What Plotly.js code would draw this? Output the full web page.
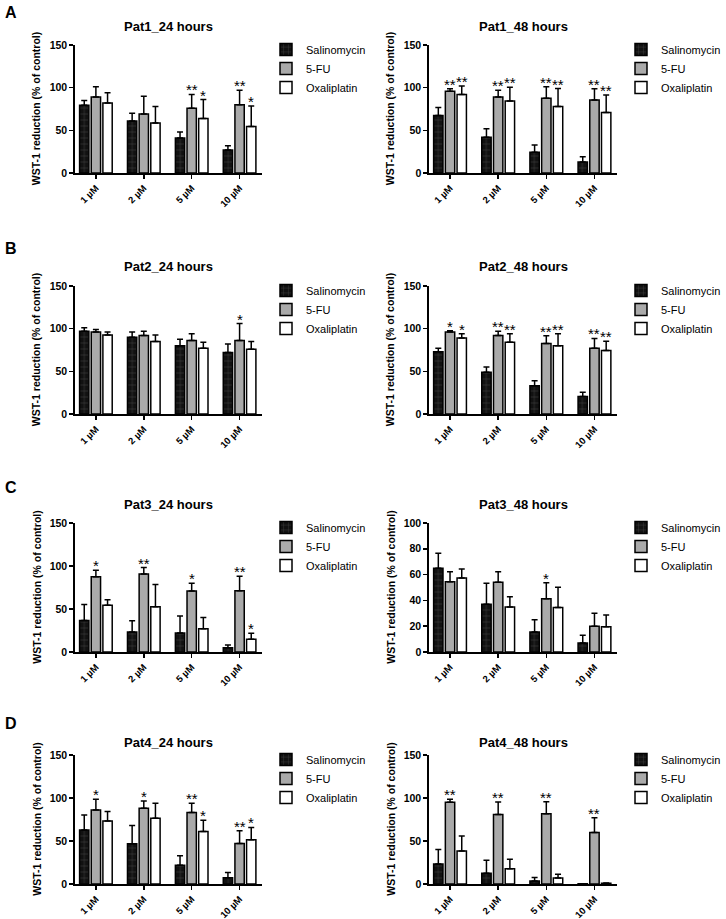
<!DOCTYPE html>
<html>
<head>
<meta charset="utf-8">
<script src="https://cdn.plot.ly/plotly-3.0.1.min.js"></script>
<style>
html,body{margin:0;padding:0;background:#fff;}
#chart{width:726px;height:919px;}
</style>
</head>
<body>
<div id="chart"></div>
<script>
// ---------------- DATA ----------------
const categories = ['1 µM', '2 µM', '5 µM', '10 µM'];
const seriesNames = ['Salinomycin', '5-FU', 'Oxaliplatin'];
const panelTitles = ['Pat1_24 hours', 'Pat1_48 hours', 'Pat2_24 hours', 'Pat2_48 hours',
                     'Pat3_24 hours', 'Pat3_48 hours', 'Pat4_24 hours', 'Pat4_48 hours'];
const panelLetters = ['A', 'B', 'C', 'D'];
const yTitle = 'WST-1 reduction (% of control)';

// means: rows = Salinomycin, 5-FU, Oxaliplatin ; columns = categories
const pat1_24_mean = [[79.5, 61, 41, 27], [89, 69, 76, 80], [82, 58.5, 64, 54.5]];
const pat1_24_err  = [[5.5, 9, 7, 5], [12, 21, 16, 17], [12, 19.5, 22, 24]];
const pat1_24_sig  = [['', '', '', ''], ['', '', '**', '**'], ['', '', '*', '*']];

const pat1_48_mean = [[67.4, 42, 24.4, 13], [95.7, 89, 87.6, 85.6], [92, 84.5, 78, 71]];
const pat1_48_err  = [[9.5, 10, 8.5, 6], [3, 8, 13.5, 13], [10, 16, 21, 20.5]];
const pat1_48_sig  = [['', '', '', ''], ['**', '**', '**', '**'], ['**', '**', '**', '**']];

const pat2_24_mean = [[97, 90, 80, 72], [96, 92, 86, 86], [92.6, 85, 77, 76]];
const pat2_24_err  = [[4, 6, 7.5, 10], [3, 5, 8, 20], [3.5, 7.5, 7, 9]];
const pat2_24_sig  = [['', '', '', ''], ['', '', '', '*'], ['', '', '', '']];

const pat2_48_mean = [[73, 49, 33, 20.6], [96, 92, 82.6, 77], [89, 84, 80, 74.4]];
const pat2_48_err  = [[4, 6, 6, 5], [1.5, 5, 9, 11.5], [5, 10, 14, 11]];
const pat2_48_sig  = [['', '', '', ''], ['*', '**', '**', '**'], ['*', '**', '**', '**']];

const pat3_24_mean = [[36.6, 23.4, 22, 5], [87.6, 90.8, 71, 71.3], [54.5, 52.6, 27, 14.8]];
const pat3_24_err  = [[18.7, 13, 20, 3], [7.4, 7.4, 9, 16.7], [6.2, 26, 13, 7]];
const pat3_24_sig  = [['', '', '', ''], ['*', '**', '*', '**'], ['', '', '', '*']];

const pat3_48_mean = [[64.9, 37, 15.5, 7], [54.5, 54, 41.3, 20], [57.4, 34.9, 34.4, 19.6]];
const pat3_48_err  = [[11.6, 16.3, 9.5, 6], [7.8, 8.3, 12.4, 10], [7, 8, 15.8, 9]];
const pat3_48_sig  = [['', '', '', ''], ['', '', '*', ''], ['', '', '', '']];

const pat4_24_mean = [[62.7, 46.7, 21.8, 7.4], [86, 88, 83, 47], [73.2, 76.4, 61, 51.4]];
const pat4_24_err  = [[17.5, 21.4, 11, 6], [12.5, 8.6, 11, 15], [11, 17.5, 13.2, 14.4]];
const pat4_24_sig  = [['', '', '', ''], ['*', '*', '**', '**'], ['', '', '*', '*']];

const pat4_48_mean = [[23.4, 12.5, 3.5, 0.3], [95, 80.9, 81.6, 60], [38.3, 17.6, 7, 1]];
const pat4_48_err  = [[16.8, 15.2, 4, 0], [3.5, 14.5, 14, 17], [17.6, 11.3, 4.3, 0.3]];
const pat4_48_sig  = [['', '', '', ''], ['**', '**', '**', '**'], ['', '', '', '']];

const yMax = [150, 150, 150, 150, 150, 100, 150, 150];
const yStep = [50, 50, 50, 50, 50, 20, 50, 50];

// ---------------- LAYOUT CONSTANTS ----------------
const W = 726, H = 919;
const FONT = 'Liberation Sans, Arial, Helvetica, sans-serif';
const BARGAP = 0.27;
const means = [pat1_24_mean, pat1_48_mean, pat2_24_mean, pat2_48_mean, pat3_24_mean, pat3_48_mean, pat4_24_mean, pat4_48_mean];
const errs = [pat1_24_err, pat1_48_err, pat2_24_err, pat2_48_err, pat3_24_err, pat3_48_err, pat4_24_err, pat4_48_err];
const sigs = [pat1_24_sig, pat1_48_sig, pat2_24_sig, pat2_48_sig, pat3_24_sig, pat3_48_sig, pat4_24_sig, pat4_48_sig];

// pixel geometry of each panel: [axisLeft, axisRight] columns, [top(max), bottom(0)] rows
const colX = [[77, 268], [439, 631]];
const rowY = [[45, 173], [286, 414], [523, 652], [755, 884]];
const titleY = [27, 267, 505, 742];
const letterY = [12, 249, 487, 723];

const fills = ['#111111', '#aaaaaa', '#ffffff'];

const traces = [];
const annotations = [];
const layout = {
  width: W, height: H,
  margin: {l: 0, r: 0, t: 0, b: 0},
  paper_bgcolor: '#ffffff', plot_bgcolor: 'rgba(0,0,0,0)',
  barmode: 'group', bargap: BARGAP, bargroupgap: 0.2,
  font: {family: FONT, color: '#000000'},
  annotations: annotations,
};

for (let p = 0; p < 8; p++) {
  const row = Math.floor(p / 2), col = p % 2;
  const xs = p === 0 ? '' : String(p + 1);
  const xaxisKey = 'xaxis' + xs, yaxisKey = 'yaxis' + xs;
  const legendKey = 'legend' + xs;
  const [xl, xr] = colX[col];
  const [yt, yb] = rowY[row];
  const tickvals = [];
  for (let v = 0; v <= yMax[p]; v += yStep[p]) tickvals.push(v);

  layout[xaxisKey] = {
    domain: [xl / W, xr / W], anchor: 'y' + xs,
    range: [-0.43, 3.47], tickvals: [0, 1, 2, 3], ticktext: categories,
    tickangle: -45, ticks: 'outside', ticklen: 4, tickwidth: 1.5, tickcolor: '#000',
    showline: true, linewidth: 2, linecolor: '#000', showgrid: false, zeroline: false,
    tickfont: {family: FONT, size: 9.5, weight: 'bold', color: '#000'}, fixedrange: true,
  };
  layout[yaxisKey] = {
    domain: [1 - yb / H, 1 - yt / H], anchor: 'x' + xs,
    range: [0, yMax[p]], tickvals: tickvals,
    ticks: 'outside', ticklen: 4, tickwidth: 1.5, tickcolor: '#000',
    showline: true, linewidth: 2, linecolor: '#000', showgrid: false, zeroline: false,
    tickfont: {family: FONT, size: 10.5, weight: 'bold', color: '#000'}, fixedrange: true,
  };
  layout[legendKey] = {
    x: (xr + 4) / W, y: 1 - (yt - 10) / H, xanchor: 'left', yanchor: 'top',
    bgcolor: 'rgba(0,0,0,0)', font: {family: FONT, size: 11, color: '#000'},
    tracegroupgap: 0, itemwidth: 30,
  };

  for (let s = 0; s < 3; s++) {
    const tr = {
      type: 'bar', name: seriesNames[s],
      x: [0, 1, 2, 3], y: means[p][s],
      xaxis: 'x' + xs, yaxis: 'y' + xs, legend: legendKey,
      marker: {color: fills[s], line: {color: '#000', width: 1.5}},
      error_y: {type: 'data', array: errs[p][s], arrayminus: errs[p][s].map(() => 0),
                symmetric: false, color: '#000', thickness: 1.5, width: 3},
      hoverinfo: 'skip',
    };
    if (s === 0) {
      tr.marker.pattern = {shape: '+', bgcolor: '#111111', fgcolor: '#4a4a4a', size: 6, solidity: 0.15};
    }
    traces.push(tr);

    const slot = (1 - BARGAP) / 3;
    for (let c = 0; c < 4; c++) {
      if (sigs[p][s][c]) {
        annotations.push({
          xref: 'x' + xs, yref: 'y' + xs,
          x: c + (s - 1) * slot, y: means[p][s][c] + errs[p][s][c],
          text: sigs[p][s][c], showarrow: false, xanchor: 'center', yanchor: 'bottom',
          yshift: -6, font: {family: FONT, size: 15, color: '#000'},
        });
      }
    }
  }

  // panel title
  annotations.push({
    xref: 'paper', yref: 'paper', x: ((xl + xr) / 2) / W, y: 1 - titleY[row] / H,
    text: panelTitles[p], showarrow: false, xanchor: 'center', yanchor: 'middle',
    font: {family: FONT, size: 13, weight: 'bold', color: '#000'},
  });
  // y axis title
  annotations.push({
    xref: 'paper', yref: 'paper', x: (xl - 40) / W, y: 1 - ((yt + yb) / 2) / H,
    text: yTitle, showarrow: false, textangle: -90, xanchor: 'center', yanchor: 'middle',
    font: {family: FONT, size: 10.5, weight: 'bold', color: '#000'},
  });
  if (col === 0) {
    annotations.push({
      xref: 'paper', yref: 'paper', x: 3 / W, y: 1 - letterY[row] / H,
      text: panelLetters[row], showarrow: false, xanchor: 'left', yanchor: 'middle',
      font: {family: FONT, size: 16, weight: 'bold', color: '#000'},
    });
  }
}

Plotly.newPlot('chart', traces, layout, {staticPlot: true, displayModeBar: false});
</script>
</body>
</html>
